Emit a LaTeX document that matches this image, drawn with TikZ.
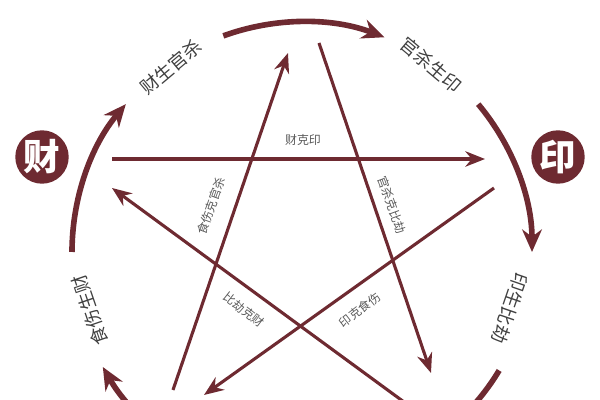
\documentclass[tikz,border=0pt]{standalone}
\usepackage{fontspec}
\usepackage{xcolor}
\usetikzlibrary{arrows.meta}
\newfontfamily\cjk{Noto Sans CJK SC}
\definecolor{wine}{HTML}{6E2A31}
\tikzset{
  starline/.style={draw=wine, line width=2.2pt, -{Stealth[length=14pt,width=11pt]}},
  ringline/.style={draw=wine, line width=4pt, -{Stealth[length=16pt,width=14pt]}},
  element/.style={circle, fill=wine, text=white, minimum size=38pt, inner sep=0pt, font=\cjk\bfseries\fontsize{26}{26}\selectfont},
  ringlabel/.style={text=black!75, font=\cjk\fontsize{13}{13}\selectfont},
  starlabel/.style={text=black!65, font=\cjk\fontsize{8.5}{8.5}\selectfont}
}
\begin{document}
\begin{tikzpicture}[x=0.025cm,y=0.025cm]
\useasboundingbox (0,0) rectangle (600,400);
\clip (0,0) rectangle (600,400);

% elements
\node[element] (cai) at (42,243) {财};
\node[element] (yin) at (558,243) {印};

% outer ring
\draw[ringline] (302,148) ++(110:230) arc (110:69:230);
\draw[ringline] (302,148) ++(40:230) arc (40:0:230);
\draw[ringline, -] (302,148) ++(-31:230) arc (-31:-70:230);
\draw[ringline] (302,148) ++(250:230) arc (250:210:230);
\draw[ringline] (302,148) ++(180:230) arc (180:140:230);

\node[ringlabel, rotate=40] (caisheng) at (171,333) {财生官杀};
\node[ringlabel, rotate=-40] (guansheng) at (431,335) {官杀生印};
\node[ringlabel, rotate=-109] (yinsheng) at (510,92) {印生比劫};
\node[ringlabel, rotate=109] (shisheng) at (90,90) {食伤生财};

% star
\coordinate (p1a) at (112,241);
\coordinate (p1b) at (485,241);
\coordinate (p2a) at (173,10);
\coordinate (p2b) at (288,347);
\coordinate (p3a) at (319,357);
\coordinate (p3b) at (431,27);
\coordinate (p4a) at (494,212);
\coordinate (p4b) at (204,5);
\coordinate (p5a) at (404,-2);
\coordinate (p5b) at (112,212);

\draw[starline] (p1a) -- (p1b);
\draw[starline] (p2a) -- (p2b);
\draw[starline] (p3a) -- (p3b);
\draw[starline] (p4a) -- (p4b);
\draw[starline] (p5a) -- (p5b);

\node[starlabel] (caike) at (303,260) {财克印};
\node[starlabel, rotate=70] (shike) at (211,194) {食伤克官杀};
\node[starlabel, rotate=-70] (guanke) at (392,195) {官杀克比劫};
\node[starlabel, rotate=-38] (bike) at (244,90) {比劫克财};
\node[starlabel, rotate=38] (yinke) at (360,90) {印克食伤};

\end{tikzpicture}
\end{document}
